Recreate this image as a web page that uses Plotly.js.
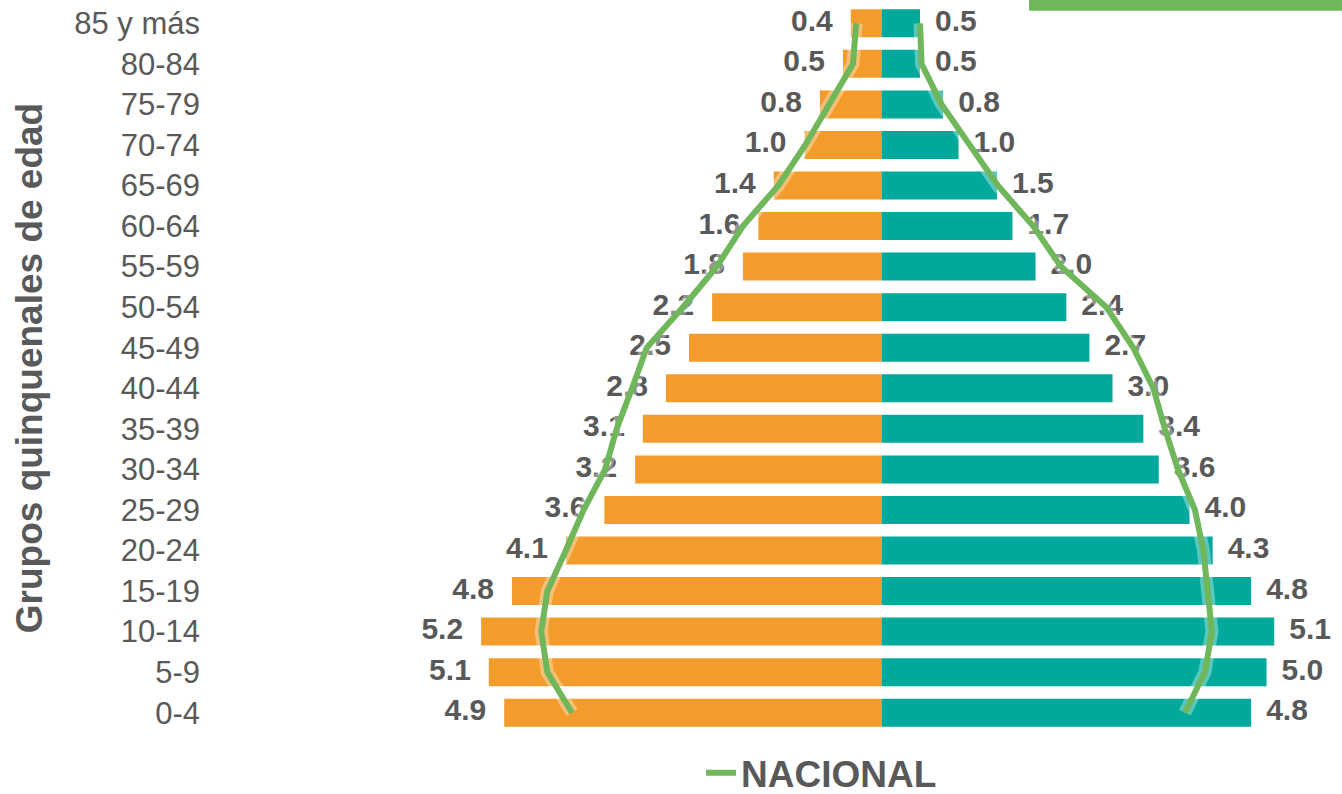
<!DOCTYPE html>
<html>
<head>
<meta charset="utf-8">
<script src="https://cdn.plot.ly/plotly-3.0.1.min.js"></script>
<style>
html,body{margin:0;padding:0;background:#ffffff;}
#chart{width:1342px;height:794px;}
</style>
</head>
<body>
<div id="chart"></div>
<script>
// Age groups, bottom to top
const categories = ['0-4','5-9','10-14','15-19','20-24','25-29','30-34','35-39','40-44','45-49','50-54','55-59','60-64','65-69','70-74','75-79','80-84','85 y más'];
// Left (orange) bars, percent
const leftValues  = [4.9, 5.1, 5.2, 4.8, 4.1, 3.6, 3.2, 3.1, 2.8, 2.5, 2.2, 1.8, 1.6, 1.4, 1.0, 0.8, 0.5, 0.4];
// Right (teal) bars, percent
const rightValues = [4.8, 5.0, 5.1, 4.8, 4.3, 4.0, 3.6, 3.4, 3.0, 2.7, 2.4, 2.0, 1.7, 1.5, 1.0, 0.8, 0.5, 0.5];
// NACIONAL reference line
const nationalLeft  = [4.02, 4.34, 4.42, 4.34, 4.10, 3.87, 3.59, 3.44, 3.24, 3.05, 2.58, 2.14, 1.80, 1.34, 0.99, 0.67, 0.37, 0.33];
const nationalRight = [3.94, 4.20, 4.29, 4.24, 4.18, 4.07, 3.85, 3.68, 3.53, 3.27, 2.92, 2.33, 1.97, 1.51, 1.15, 0.78, 0.52, 0.50];

const ORANGE = '#F39B2B';
const TEAL   = '#00A99B';
const GREEN  = '#6FB75A';
const GRAY   = '#595959';
const FONT   = '"Liberation Sans", Arial, Helvetica, sans-serif';

const W = 1342, H = 794;
const M = {l: 205, r: 2, t: 3, b: 61, autoexpand: false};
const X_RANGE = [-8.786, 5.954];
const pxPerUnit = (W - M.l - M.r) / (X_RANGE[1] - X_RANGE[0]);
const LEFT_GAP = 18 / pxPerUnit;
const RIGHT_GAP = 15 / pxPerUnit;

const fmt = v => v.toFixed(1);

const traces = [
  {
    type: 'bar', orientation: 'h', name: 'left',
    y: categories, x: leftValues.map(v => -v),
    marker: {color: ORANGE, line: {width: 0}},
    showlegend: false, hoverinfo: 'skip'
  },
  {
    type: 'bar', orientation: 'h', name: 'right',
    y: categories, x: rightValues,
    marker: {color: TEAL, line: {width: 0}},
    showlegend: false, hoverinfo: 'skip'
  },
  {
    type: 'scatter', mode: 'text', showlegend: false, hoverinfo: 'skip',
    y: categories, x: leftValues.map(v => -v - LEFT_GAP),
    text: leftValues.map(fmt), textposition: 'middle left',
    textfont: {family: FONT, size: 30, color: GRAY, weight: 'bold'}
  },
  {
    type: 'scatter', mode: 'text', showlegend: false, hoverinfo: 'skip',
    y: categories, x: rightValues.map(v => v + RIGHT_GAP),
    text: rightValues.map(fmt), textposition: 'middle right',
    textfont: {family: FONT, size: 30, color: GRAY, weight: 'bold'}
  },
  {
    type: 'scatter', mode: 'lines', showlegend: false, hoverinfo: 'skip',
    y: categories.concat([null], categories),
    x: nationalLeft.map(v => -v).concat([null], nationalRight),
    connectgaps: false,
    line: {color: 'rgba(255,255,255,0.35)', width: 13}
  },
  {
    type: 'scatter', mode: 'lines', name: 'NACIONAL', hoverinfo: 'skip',
    y: categories.concat([null], categories),
    x: nationalLeft.map(v => -v).concat([null], nationalRight),
    connectgaps: false,
    line: {color: GREEN, width: 6}
  }
];

const layout = {
  width: W, height: H,
  margin: M,
  paper_bgcolor: '#ffffff', plot_bgcolor: '#ffffff',
  barmode: 'overlay',
  bargap: 0.31,
  font: {family: FONT, color: GRAY},
  xaxis: {
    range: X_RANGE, showgrid: false, zeroline: false,
    showticklabels: false, showline: false, ticks: '', fixedrange: true
  },
  yaxis: {
    type: 'category', categoryorder: 'array', categoryarray: categories,
    range: [-0.5, categories.length - 0.5],
    showgrid: false, zeroline: false, showline: false, ticks: '',
    tickfont: {family: FONT, size: 31, color: GRAY},
    ticklabelstandoff: 4,
    title: {text: 'Grupos quinquenales de edad', font: {family: FONT, size: 37, color: GRAY, weight: 'bold'}, standoff: 20},
    automargin: false
  },
  showlegend: true,
  legend: {
    orientation: 'h', x: 0.437, xanchor: 'left', y: -0.055, yanchor: 'middle',
    font: {family: FONT, size: 37, color: GRAY, weight: 'bold'},
    bgcolor: 'rgba(0,0,0,0)'
  },
  shapes: [
    {type: 'rect', xref: 'paper', yref: 'paper', x0: 0.726, x1: 1.01, y0: 0.9895, y1: 1.01,
     fillcolor: GREEN, line: {width: 0}, layer: 'above'}
  ]
};

Plotly.newPlot('chart', traces, layout, {displayModeBar: false, staticPlot: true});
</script>
</body>
</html>
